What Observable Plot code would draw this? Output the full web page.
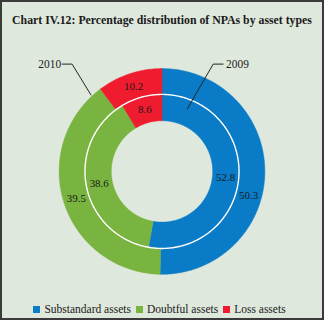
<!DOCTYPE html>
<html>
<head>
<meta charset="utf-8">
<script src="https://cdn.jsdelivr.net/npm/d3@7"></script>
<script src="https://cdn.jsdelivr.net/npm/@observablehq/plot@0.6"></script>
<style>
  html, body { margin: 0; padding: 0; background: #fff; }
  #frame {
    position: relative; width: 324px; height: 320px; box-sizing: border-box;
    border: 2px solid #3a3a3a; background: #dfe8dc; overflow: hidden;
    font-family: "Liberation Serif", serif; color: #1a1a1a;
  }
  #title {
    position: absolute; left: 0; right: 0; top: 11px; text-align: center;
    font-weight: bold; font-size: 11.8px; line-height: 14px; white-space: nowrap;
  }
  #chart { position: absolute; left: -2px; top: -2px; }
  #legend { position: absolute; left: 0; right: 0; top: 300px; height: 14px; display: flex; justify-content: center; }
  #legend, #legend * { font-family: "Liberation Serif", serif !important; font-size: 11.5px !important; color: #1a1a1a !important; }
  #legend > div {
    justify-content: center !important; min-height: 0 !important; margin: 0 !important; line-height: 14px !important;
    display: flex !important; align-items: center !important; flex-wrap: nowrap !important;
  }
  #legend > div > span { margin-right: 5px !important; display: inline-flex !important; align-items: center !important; }
  #legend > div > span svg { margin-right: 4px !important; }
</style>
</head>
<body>
<div id="frame">
  <div id="title">Chart IV.12: Percentage distribution of NPAs by asset types</div>
  <div id="chart"></div>
  <div id="legend"></div>
</div>
<script>
const categories = ["Substandard assets", "Doubtful assets", "Loss assets"];
const years = ["2009", "2010"];
const values2009 = [52.8, 38.6, 8.6];
const values2010 = [50.3, 39.5, 10.2];
const colors = ["#0a7bc6", "#78b43f", "#ee1c2e"];

// layout (page pixels)
const W = 324, H = 321;
const cx = 162.5, cy = 172;
const rings = {
  "2009": {r0: 51, r1: 77.5, values: values2009},
  "2010": {r0: 77.5, r1: 103.5, values: values2010}
};
const labelNudge = {"2010|Substandard assets": 15}; // degrees

function pt(r, deg) {
  const a = deg * Math.PI / 180;
  return {x: cx + r * Math.sin(a), y: cy - r * Math.cos(a)};
}

const marks = [];
const labels = [];
for (const yr of years) {
  const {r0, r1, values} = rings[yr];
  const total = d3.sum(values);
  let start = 0;
  values.forEach((v, i) => {
    const a0 = start / total * 360, a1 = (start + v) / total * 360;
    start += v;
    const n = Math.max(4, Math.ceil(a1 - a0));
    const poly = [];
    for (let k = 0; k <= n; k++) poly.push(pt(r1, a0 + (a1 - a0) * k / n));
    for (let k = n; k >= 0; k--) poly.push(pt(r0, a0 + (a1 - a0) * k / n));
    poly.push(poly[0]);
    marks.push(Plot.line(poly, {x: "x", y: "y", fill: colors[i], stroke: colors[i], strokeWidth: 0.5, curve: "linear"}));
    const mid = (a0 + a1) / 2 + (labelNudge[yr + "|" + categories[i]] || 0);
    const p = pt((r0 + r1) / 2, mid);
    labels.push({x: p.x, y: p.y, text: v.toFixed(1)});
  });
}
// white separator between rings
const circ = d3.range(0, 361, 1).map(d => pt(77.5, d));
marks.push(Plot.line(circ, {x: "x", y: "y", stroke: "#ffffff", strokeWidth: 1.4, curve: "linear"}));

marks.push(Plot.text(labels, {x: "x", y: "y", text: "text", fontFamily: "Liberation Serif", fontSize: 11, fill: "#1a1a1a"}));

// leader lines for years
const lead2010 = [{x: 62, y: 64}, {x: 72, y: 64}, {x: 91, y: 95}];
const lead2009 = [{x: 224, y: 64}, {x: 214, y: 64}, {x: 188, y: 109}];
marks.push(Plot.line(lead2010, {x: "x", y: "y", stroke: "#222", strokeWidth: 1}));
marks.push(Plot.line(lead2009, {x: "x", y: "y", stroke: "#222", strokeWidth: 1}));
marks.push(Plot.text([{x: 61, y: 64, t: years[1]}], {x: "x", y: "y", text: "t", textAnchor: "end", fontFamily: "Liberation Serif", fontSize: 11.5, fill: "#1a1a1a"}));
marks.push(Plot.text([{x: 227, y: 64, t: years[0]}], {x: "x", y: "y", text: "t", textAnchor: "start", fontFamily: "Liberation Serif", fontSize: 11.5, fill: "#1a1a1a"}));

const chart = Plot.plot({
  width: W, height: H, margin: 0,
  x: {domain: [0, W], axis: null},
  y: {domain: [H, 0], axis: null},
  style: {background: "transparent", overflow: "visible"},
  marks
});
document.getElementById("chart").appendChild(chart);

const legend = Plot.legend({
  color: {type: "ordinal", domain: categories, range: colors},
  legend: "swatches", swatchSize: 7, className: "lg"
});
document.getElementById("legend").appendChild(legend);
</script>
</body>
</html>
